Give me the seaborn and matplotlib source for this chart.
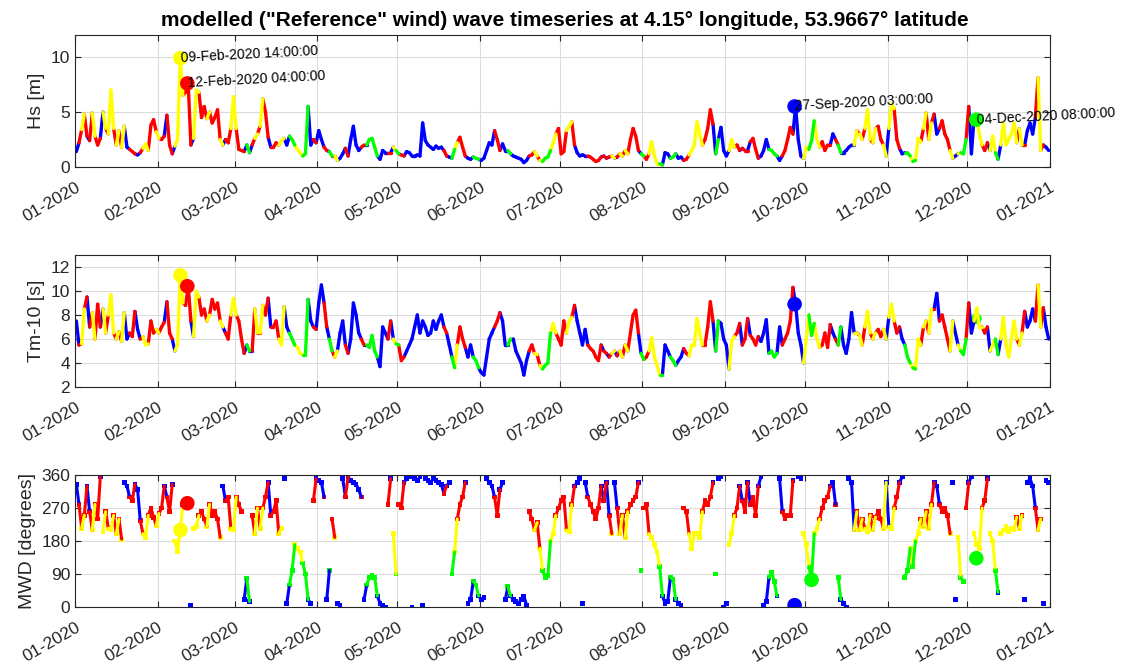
import numpy as np
import pandas as pd
import matplotlib
matplotlib.use("Agg")
import matplotlib.pyplot as plt
import matplotlib.dates as mdates
import seaborn as sns

# ---------------- data (daily values, 2020-01-01 ... 2020-12-31) ----------------
START = "2020-01-01 12:00"

HS = [
    1.4, 2.2, 3.4, 4.8, 2.8, 2.4, 4.9, 2.8, 2.0, 2.6,
    5.0, 3.5, 3.0, 7.0, 3.5, 2.0, 3.3, 1.8, 3.7, 1.8,
    1.6, 1.4, 1.2, 1.1, 1.3, 1.7, 2.1, 1.5, 3.8, 4.3,
    3.2, 2.6, 2.5, 2.8, 4.7, 2.0, 1.2, 1.9, 2.5, 9.9,
    6.5, 6.8, 7.6, 2.0, 2.6, 7.0, 6.8, 4.5, 5.5, 4.4,
    5.0, 4.0, 4.5, 5.2, 2.5, 2.0, 2.5, 2.2, 3.5, 6.4,
    3.5, 1.6, 1.5, 1.4, 2.0, 1.3, 2.0, 2.6, 3.0, 3.7,
    6.2, 5.0, 2.7, 1.8, 1.8, 2.2, 2.0, 2.4, 2.6, 2.0,
    2.8, 2.5, 2.0, 1.6, 1.3, 1.0, 1.2, 5.5, 2.0, 2.5,
    2.2, 3.3, 2.5, 1.8, 1.5, 1.4, 1.0, 1.0, 0.6, 0.8,
    1.2, 1.7, 1.0, 2.5, 3.7, 2.0, 1.5, 1.8, 2.0, 2.0,
    2.5, 2.6, 1.8, 1.0, 0.7, 1.5, 1.3, 1.3, 1.3, 1.8,
    1.5, 1.2, 1.1, 1.0, 1.4, 1.3, 1.0, 1.0, 1.1, 1.0,
    4.0, 2.4, 2.0, 1.8, 1.6, 1.9, 1.7, 1.8, 1.5, 1.0,
    0.9, 0.8, 1.6, 2.2, 2.7, 1.8, 1.0, 0.8, 0.7, 0.9,
    0.8, 0.7, 0.6, 0.8, 1.5, 2.2, 2.0, 3.3, 2.5, 1.5,
    2.1, 1.5, 1.5, 1.2, 1.0, 0.9, 0.8, 0.7, 0.4, 0.6,
    1.0, 1.1, 1.4, 1.0, 0.6, 0.5, 0.8, 0.9, 1.5, 2.2,
    3.0, 3.5, 1.2, 1.4, 3.3, 3.7, 4.1, 2.0, 1.3, 1.0,
    1.1, 1.0, 1.0, 0.9, 0.7, 0.5, 0.6, 0.9, 1.0, 0.8,
    0.9, 1.0, 0.8, 0.9, 1.2, 1.0, 1.5, 1.2, 2.5, 3.5,
    2.8, 1.5, 1.2, 1.0, 0.7, 1.2, 2.3, 1.0, 0.3, 0.3,
    0.2, 1.3, 1.2, 0.8, 0.9, 1.2, 0.8, 0.9, 0.6, 0.7,
    1.1, 1.5, 2.0, 4.1, 3.0, 2.0, 2.5, 3.5, 5.2, 3.9,
    1.2, 2.5, 3.6, 1.5, 1.0, 1.5, 2.5, 1.8, 2.0, 1.5,
    1.7, 1.5, 1.5, 2.3, 2.6, 1.6, 0.8, 1.0, 1.5, 2.5,
    1.6, 1.5, 1.2, 1.0, 0.6, 1.0, 1.5, 2.5, 3.6, 3.0,
    5.5, 2.5, 1.0, 0.8, 1.8, 1.6, 2.4, 4.2, 2.5, 1.8,
    2.3, 1.5, 2.0, 2.0, 3.0, 2.5, 2.0, 1.3, 1.3, 1.5,
    1.8, 2.0, 2.0, 3.3, 3.0, 2.5, 3.5, 5.2, 2.5, 2.2,
    3.5, 3.7, 2.5, 2.0, 1.0, 3.5, 5.7, 5.3, 2.5, 1.7,
    1.2, 1.3, 1.3, 1.0, 0.5, 0.6, 2.6, 2.3, 3.5, 4.9,
    2.5, 4.0, 4.8, 3.0, 3.5, 4.2, 3.0, 2.5, 1.5, 0.8,
    1.0, 1.2, 1.3, 1.2, 2.5, 5.5, 1.2, 4.5, 4.3, 3.0,
    2.0, 1.5, 2.2, 1.5, 2.8, 1.3, 0.7, 2.0, 4.0, 2.0,
    2.5, 3.0, 4.0, 2.2, 3.5, 2.0, 2.0, 3.3, 4.0, 3.0,
    4.5, 8.1, 1.5, 2.0, 1.8, 1.5,
]

TM = [
    7.5, 5.5, 5.6, 8.5, 9.5, 7.0, 8.2, 6.0, 8.9, 7.0,
    8.5, 6.5, 8.0, 9.7, 6.5, 6.0, 6.6, 5.8, 8.2, 6.0,
    6.5, 6.2, 8.3, 6.8, 6.0, 6.2, 5.5, 5.6, 7.5, 6.5,
    6.8, 6.5, 7.0, 7.4, 9.1, 6.5, 6.0, 5.0, 5.5, 11.3,
    9.0, 8.8, 10.4, 7.5, 6.2, 10.0, 9.5, 8.0, 8.5, 7.5,
    8.0, 9.3, 8.5, 9.0, 7.5, 7.0, 6.5, 6.0, 8.0, 9.4,
    8.0, 7.5, 6.0, 4.8, 5.5, 5.0, 5.0, 8.5, 6.5, 6.5,
    8.8, 8.0, 9.4, 7.0, 7.0, 7.5, 6.0, 5.5, 8.7, 7.0,
    6.5, 6.0, 5.5, 5.3, 4.8, 4.7, 4.7, 9.3, 7.5, 7.0,
    6.8, 9.0, 10.5, 9.0, 7.0, 6.0, 5.0, 4.5, 5.0, 6.5,
    7.5, 5.5, 4.8, 6.0, 9.0, 8.0, 6.5, 6.0, 5.5, 5.5,
    5.3, 6.3, 5.0, 4.5, 3.7, 7.0, 6.5, 6.0, 7.5, 6.0,
    5.6, 5.5, 4.2, 4.5, 5.0, 5.5, 6.0, 7.0, 8.0, 6.5,
    7.5, 7.0, 6.3, 6.5, 7.5, 6.8, 7.5, 8.0, 7.0, 6.5,
    5.5, 4.5, 3.6, 5.5, 7.0, 6.0, 5.3, 4.5, 5.5, 4.5,
    4.2, 3.6, 3.2, 3.0, 4.5, 6.0, 6.5, 7.0, 7.5, 8.2,
    7.5, 5.5, 5.5, 6.0, 6.0, 5.0, 4.5, 4.0, 3.0, 4.2,
    5.0, 5.5, 4.8, 4.7, 3.8, 3.5, 3.8, 4.0, 6.5, 7.3,
    6.5, 6.0, 5.5, 7.5, 6.5, 7.5, 7.8, 8.8, 7.5, 6.5,
    5.5, 6.8, 5.5, 5.2, 5.0, 4.5, 4.2, 5.5, 5.0, 4.8,
    4.5, 4.8, 5.0, 4.6, 5.0, 4.5, 5.5, 5.0, 6.5, 8.0,
    8.4, 6.5, 4.8, 4.3, 4.5, 5.0, 6.1, 4.5, 3.8, 3.0,
    3.0, 5.5, 5.0, 4.5, 4.2, 3.8, 4.2, 4.5, 5.2, 4.8,
    4.6, 5.5, 5.5, 7.7, 6.5, 5.5, 5.5, 7.0, 9.1, 7.5,
    5.0, 7.5, 7.3, 6.0, 5.5, 3.5, 5.8, 6.2, 6.5, 7.3,
    5.5, 6.0, 7.7, 6.3, 6.0, 5.5, 6.2, 5.8, 6.5, 7.6,
    4.8, 5.0, 4.5, 4.8, 7.0, 5.5, 6.0, 6.5, 7.5, 10.3,
    8.9, 6.5, 5.5, 4.0, 6.0, 8.0, 6.3, 7.3, 6.0, 5.3,
    5.5, 6.5, 5.3, 7.2, 6.5, 6.0, 5.5, 7.0, 5.5, 4.8,
    6.0, 8.2, 6.5, 6.5, 6.3, 5.5, 7.0, 8.3, 6.5, 6.0,
    6.5, 6.8, 6.2, 6.8, 6.0, 7.8, 8.9, 7.5, 6.5, 7.0,
    6.0, 5.5, 4.5, 4.0, 3.6, 3.5, 6.0, 5.5, 7.0, 7.5,
    6.5, 8.5, 8.5, 9.8, 7.5, 8.0, 7.0, 6.0, 5.0, 7.5,
    6.5, 5.5, 5.0, 4.7, 6.0, 9.0, 6.5, 7.5, 8.6, 7.0,
    7.0, 6.5, 7.0, 5.0, 5.5, 6.0, 4.7, 6.0, 7.8, 5.5,
    4.5, 6.0, 7.5, 6.0, 5.5, 6.5, 8.3, 7.0, 7.5, 8.5,
    7.5, 10.5, 7.0, 8.6, 7.0, 6.0,
]

MWD = [
    335, 280, 215, 250, 330, 260, 210, 280, 240, 355,
    205, 260, 215, 210, 250, 200, 240, 185, 340, 330,
    300, 290, 335, 320, 235, 200, 190, 250, 270, 245,
    222, 255, 270, 330, 300, 260, 335, 180, 150, 210,
    280, 285, 283, 5, 215, 220, 250, 260, 240, 220,
    280, 250, 260, 240, 190, 330, 290, 300, 215, 210,
    300, 280, 260, 20, 78, 15, 250, 200, 270, 215,
    270, 300, 340, 250, 260, 290, 200, 215, 350, 10,
    60, 100, 170, 160, 150, 120, 90, 20, 10, 290,
    350, 345, 340, 300, 20, 100, 240, 190, 10, 5,
    350, 300, 355, 345, 340, 335, 320, 300, 20, 60,
    80, 85, 80, 30, 10, 5, 0, 280, 350, 200,
    90, 280, 270, 340, 350, 355, 0, 350, 345, 355,
    5, 350, 345, 340, 350, 345, 340, 335, 310, 330,
    340, 90, 150, 240, 280, 300, 340, 10, 20, 70,
    60, 30, 20, 25, 350, 340, 330, 300, 250, 320,
    340, 20, 55, 30, 20, 15, 10, 20, 30, 5,
    260, 240, 210, 230, 160, 100, 80, 85, 180, 200,
    250, 270, 290, 300, 210, 205, 280, 330, 340, 350,
    10, 340, 300, 280, 260, 240, 270, 330, 290, 340,
    250, 200, 340, 270, 200, 250, 190, 260, 280, 290,
    300, 340, 100, 270, 280, 200, 190, 170, 150, 110,
    30, 10, 15, 80, 75, 20, 10, 5, 270, 260,
    200, 160, 200, 200, 190, 260, 290, 280, 300, 340,
    90, 350, 355, 0, 10, 170, 200, 250, 270, 330,
    290, 260, 340, 280, 300, 250, 330, 355, 5, 15,
    80, 95, 70, 30, 350, 260, 240, 250, 250, 345,
    5, 355, 350, 200, 170, 110, 75, 200, 215, 240,
    270, 290, 300, 330, 340, 280, 80, 20, 10, 0,
    350, 340, 210, 260, 210, 240, 215, 205, 250, 210,
    245, 260, 240, 215, 340, 220, 215, 270, 300, 340,
    355, 80, 100, 160, 110, 180, 200, 240, 220, 260,
    215, 280, 340, 330, 280, 260, 270, 250, 200, 340,
    20, 190, 80, 70, 270, 340, 355, 200, 170, 160,
    270, 290, 350, 200, 180, 100, 40, 200, 210, 220,
    205, 215, 210, 245, 215, 250, 20, 340, 350, 330,
    270, 210, 240, 10, 345, 340,
]

# highlighted events
EVENT_TIMES = ["2020-02-09 14:00", "2020-02-12 04:00", "2020-09-27 03:00", "2020-12-04 08:00"]
EVENT_LABELS = ["09-Feb-2020 14:00:00", "12-Feb-2020 04:00:00",
                "27-Sep-2020 03:00:00", "04-Dec-2020 08:00:00"]
EVENT_SECTORS = ["S", "W", "N", "E"]
EVENT_HS = [9.9, 7.6, 5.5, 4.3]
EVENT_TM = [11.3, 10.4, 8.9, 7.7]
EVENT_MWD_TIMES = ["2020-02-09 14:00", "2020-02-12 04:00", "2020-09-27 03:00",
                   "2020-10-03 12:00", "2020-12-04 08:00"]
EVENT_MWD = [210, 283, 5, 74, 133]
EVENT_MWD_SECTORS = ["S", "W", "N", "E", "E"]

TITLE = 'modelled ("Reference" wind) wave timeseries at 4.15° longitude, 53.9667° latitude'

# ---------------- helpers ----------------
PAL = {"N": "#0000ff", "E": "#00ff00", "S": "#ffff00", "W": "#ff0000"}


def sector(d):
    d = d % 360
    if d >= 315 or d < 45:
        return "N"
    if d < 135:
        return "E"
    if d < 225:
        return "S"
    return "W"


times = pd.date_range(START, periods=len(HS), freq="D")
sectors = [sector(d) for d in MWD]


def segments(vals, maxjump=None):
    rows = []
    for i in range(len(vals) - 1):
        if maxjump is not None and abs(vals[i + 1] - vals[i]) > maxjump:
            continue
        rows.append((i, times[i], vals[i], sectors[i]))
        rows.append((i, times[i + 1], vals[i + 1], sectors[i]))
    return pd.DataFrame(rows, columns=["seg", "time", "val", "sector"])


def events(tlist, vals, secs):
    return pd.DataFrame({"time": pd.to_datetime(tlist), "val": vals, "sector": secs})


sns.set_theme(style="white")
plt.rcParams["font.family"] = ["Liberation Sans", "DejaVu Sans"]
plt.rcParams["axes.unicode_minus"] = False

fig = plt.figure(figsize=(11.3, 6.71), dpi=100)
W, H = 1130, 671
boxes = [(75, 35), (75, 255), (75, 475)]
axes = [fig.add_axes([l / W, (H - t - 132) / H, 975 / W, 132 / H]) for l, t in boxes]

pts = pd.DataFrame({"time": times, "Hs": HS, "Tm": TM, "MWD": MWD, "sector": sectors})

# Hs
ax = axes[0]
sns.lineplot(data=segments(HS), x="time", y="val", hue="sector", units="seg",
             estimator=None, palette=PAL, linewidth=2.4, legend=False, sort=False, ax=ax)
ev = events(EVENT_TIMES, EVENT_HS, EVENT_SECTORS)
sns.scatterplot(data=ev, x="time", y="val", hue="sector", palette=PAL, s=110,
                edgecolor="none", legend=False, ax=ax, zorder=5)
for t, v, lab in zip(ev["time"], EVENT_HS, EVENT_LABELS):
    ax.text(t, v, lab, fontsize=10, rotation=3, rotation_mode="anchor",
            ha="left", va="center", color="black", zorder=6)
ax.set_ylim(0, 12)
ax.set_yticks([0, 5, 10])
ax.set_ylabel("Hs [m]")

# Tm-10
ax = axes[1]
ev = events(EVENT_TIMES, EVENT_TM, EVENT_SECTORS)
sns.scatterplot(data=ev[ev["sector"] == "E"], x="time", y="val", hue="sector", palette=PAL,
                s=60, edgecolor="none", legend=False, ax=ax, zorder=1.5)
sns.lineplot(data=segments(TM), x="time", y="val", hue="sector", units="seg",
             estimator=None, palette=PAL, linewidth=2.4, legend=False, sort=False, ax=ax)
sns.scatterplot(data=ev[ev["sector"] != "E"], x="time", y="val", hue="sector", palette=PAL,
                s=110, edgecolor="none", legend=False, ax=ax, zorder=5)
ax.set_ylim(2, 13)
ax.set_yticks([2, 4, 6, 8, 10, 12])
ax.set_ylabel("Tm-10 [s]")

# MWD
ax = axes[2]
sns.lineplot(data=segments(MWD, maxjump=130), x="time", y="val", hue="sector", units="seg",
             estimator=None, palette=PAL, linewidth=2.2, legend=False, sort=False, ax=ax)
sns.scatterplot(data=pts, x="time", y="MWD", hue="sector", palette=PAL, s=12,
                marker="s", edgecolor="none", legend=False, ax=ax)
ev = events(EVENT_MWD_TIMES, EVENT_MWD, EVENT_MWD_SECTORS)
sns.scatterplot(data=ev, x="time", y="val", hue="sector", palette=PAL, s=110,
                edgecolor="none", legend=False, ax=ax, zorder=5)
ax.set_ylim(0, 360)
ax.set_yticks([0, 90, 180, 270, 360])
ax.set_ylabel("MWD [degrees]")

for ax in axes:
    ax.set_xlim(pd.Timestamp("2020-01-01"), pd.Timestamp("2021-01-01"))
    ax.xaxis.set_major_locator(mdates.MonthLocator(bymonthday=1))
    ax.xaxis.set_major_formatter(mdates.DateFormatter("%m-%Y"))
    ax.set_xlabel("")
    ax.grid(True, color="#dcdcdc", linewidth=0.8)
    ax.set_axisbelow(True)
    for sp in ax.spines.values():
        sp.set_color("#262626")
        sp.set_linewidth(0.8)
        sp.set_visible(True)
    ax.tick_params(axis="both", direction="in", length=4, width=0.8, colors="#262626",
                   labelsize=12.5, top=True, right=True, bottom=True, left=True)
    ax.tick_params(axis="x", pad=9)
    ax.yaxis.label.set_size(14)
    ax.yaxis.label.set_color("#262626")
    for lab in ax.get_xticklabels():
        lab.set_rotation(30)
        lab.set_ha("right")
        lab.set_rotation_mode("anchor")

fig.text(0.5, 1 - 20 / H, TITLE, ha="center", va="center", fontsize=15,
         fontweight="bold", color="black")

fig.savefig("out.png", dpi=100)
